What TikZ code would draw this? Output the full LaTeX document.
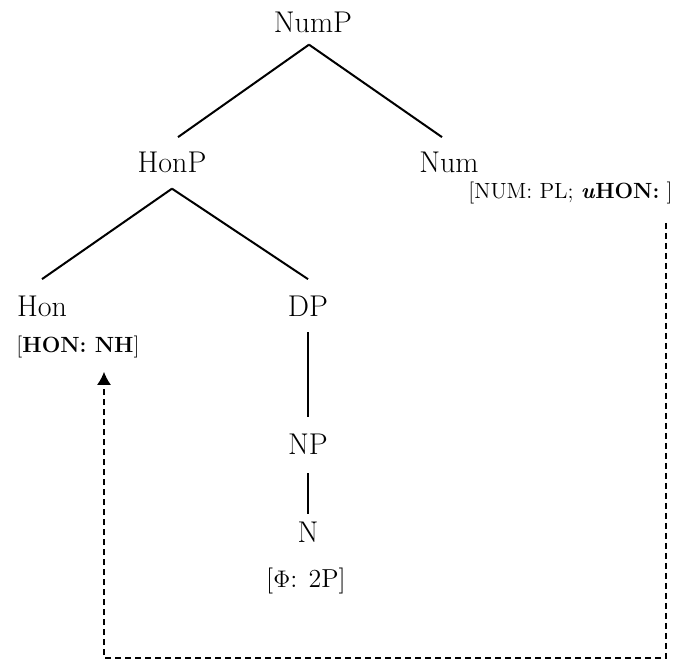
\documentclass[tikz,border=0pt]{standalone}
\usetikzlibrary{arrows.meta}
\begin{document}
\begin{tikzpicture}[x=0.5pt, y=-0.5pt,
  cat/.style={inner xsep=0pt, inner ysep=8pt, anchor=base, font=\fontsize{15}{17}\selectfont},
  feat/.style={inner sep=0pt, anchor=base, font=\fontsize{11}{13}\selectfont},
  branch/.style={line width=1pt},
  agree/.style={line width=0.6pt, dash pattern=on 3pt off 2pt, -{Latex[length=6.5pt,width=7pt]}}]
\useasboundingbox (0,0) rectangle (678,660);
\node[cat] (nump) at (313,32) {NumP};
\node[cat] (honp) at (172,172) {HonP};
\node[cat] (num) at (449,172) {Num};
\node[cat] (hon) at (42,316) {Hon};
\node[cat] (dp) at (308,316) {DP};
\node[cat] (np) at (308,454) {NP};
\node[cat] (n) at (308,542) {N};
\node[feat, anchor=base west] (numf) at (468,198) {[NUM: PL; \textbf{\textit{u}HON:} ]};
\node[feat] (honf) at (78,352) {[\textbf{HON: NH}]};
\node[feat, font=\fontsize{13}{15}\selectfont] (nf) at (306,587) {[$\Phi$: 2P]};
\coordinate (loop) at (104,658);
\draw[branch] ([xshift=-2pt,yshift=2pt]nump.south) -- ([xshift=3pt,yshift=-1pt]honp.north);
\draw[branch] ([xshift=-2pt,yshift=2pt]nump.south) -- ([xshift=-3.5pt,yshift=-1pt]num.north);
\draw[branch] (honp.south) -- (hon.north);
\draw[branch] (honp.south) -- (dp.north);
\draw[branch] (dp.south) -- (np.north);
\draw[branch] ([yshift=-1.5pt]np.south) -- ([yshift=-4.5pt]n.north);
\draw[agree] ([xshift=-3.5pt,yshift=-9.5pt]numf.south east) |- (loop) -- ([yshift=-7pt]loop |- honf.south);
\end{tikzpicture}
\end{document}
